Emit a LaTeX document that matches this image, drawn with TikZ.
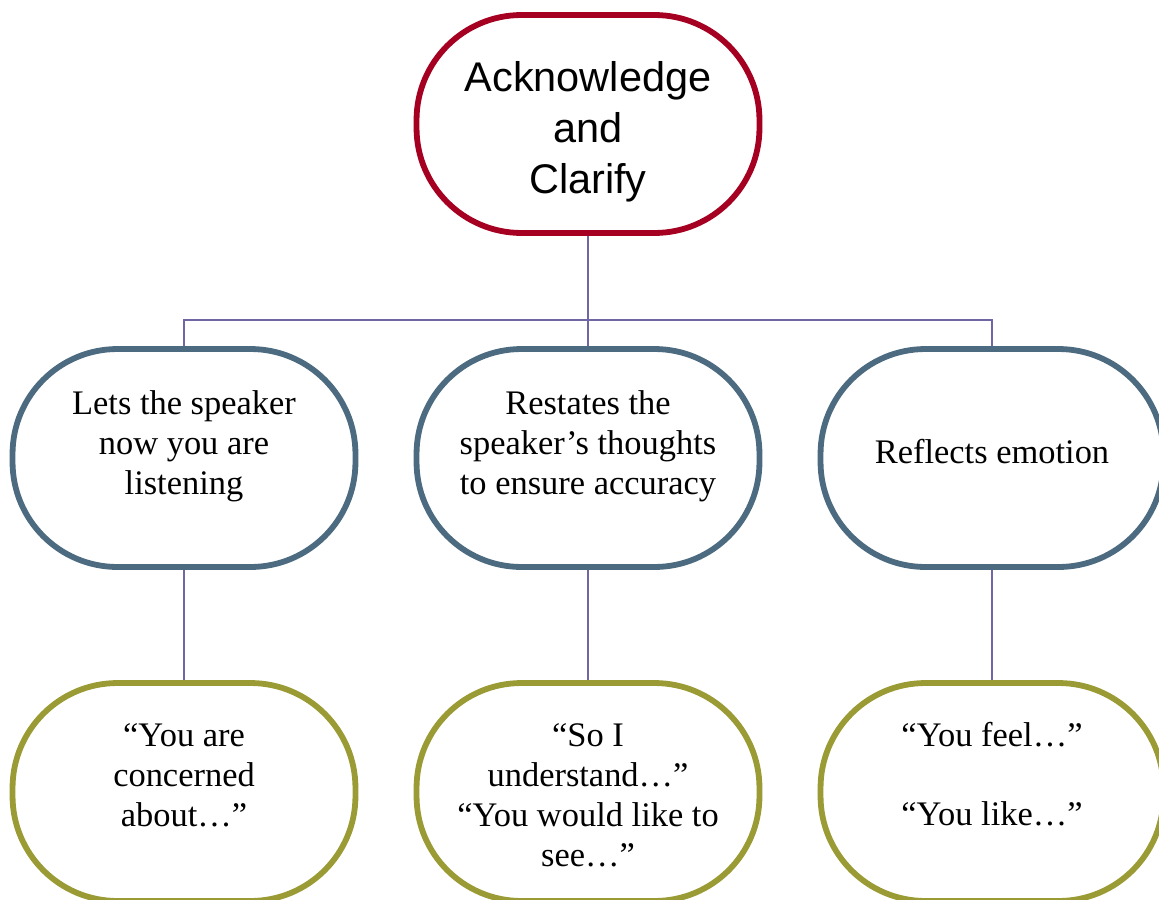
\documentclass[tikz,border=0pt]{standalone}
\usepackage{fontspec}
\setmainfont{Liberation Serif}
\newfontfamily\headfont{Liberation Sans}
\usepackage{tikz}
\usetikzlibrary{positioning, calc}
\usepackage{xcolor}
\definecolor{ackred}{HTML}{A50021}
\definecolor{midblue}{HTML}{4C6B80}
\definecolor{olive}{HTML}{9A9B34}
\definecolor{linkpurple}{HTML}{7165A3}

\begin{document}
\begin{tikzpicture}[x=0.02cm, y=-0.02cm,
  pill/.style={draw=#1, fill=white, line width=3.3pt, rounded corners=2.1cm,
    minimum width=6.86cm, minimum height=4.36cm, inner sep=0pt},
  headtxt/.style={align=center, font=\headfont\fontsize{23.6}{29}\selectfont},
  bodytxt/.style={align=center, font=\fontsize{19.6}{22.7}\selectfont},
  conn/.style={linkpurple, line width=0.85pt}]
\useasboundingbox (0,0) rectangle (1159,899);
% boxes
\node[pill=ackred] (ack) at (588,124) {};
\node[pill=midblue] (lets) at (184,458) {};
\node[pill=midblue] (rest) at (588,458) {};
\node[pill=midblue] (refl) at (992,458) {};
\node[pill=olive] (conc) at (184,792) {};
\node[pill=olive] (under) at (588,792) {};
\node[pill=olive] (feel) at (992,792) {};
% connectors
\coordinate (bar) at (588,320);
\draw[conn] (ack.south) -- (rest.north);
\draw[conn] (lets.north) |- (bar) -| (refl.north);
\draw[conn] (lets.south) -- (conc.north);
\draw[conn] (rest.south) -- (under.north);
\draw[conn] (refl.south) -- (feel.north);
% texts
\node[headtxt] (ackT) at (588,132) {Acknowledge\\and\\Clarify};
\node[bodytxt] (letsT) at (184,446) {Lets the speaker\\now you are\\listening};
\node[bodytxt] (restT) at (588,446) {Restates the\\speaker’s thoughts\\to ensure accuracy};
\node[bodytxt] (reflT) at (992,452) {Reflects emotion};
\node[bodytxt] (concT) at (184,775) {“You are\\concerned\\about…”};
\node[bodytxt] (underT) at (588,795) {“So I\\understand…”\\“You would like to\\see…”};
\node[bodytxt] (feelT) at (992,774) {“You feel…”\\~\\“You like…”};
\end{tikzpicture}
\end{document}
